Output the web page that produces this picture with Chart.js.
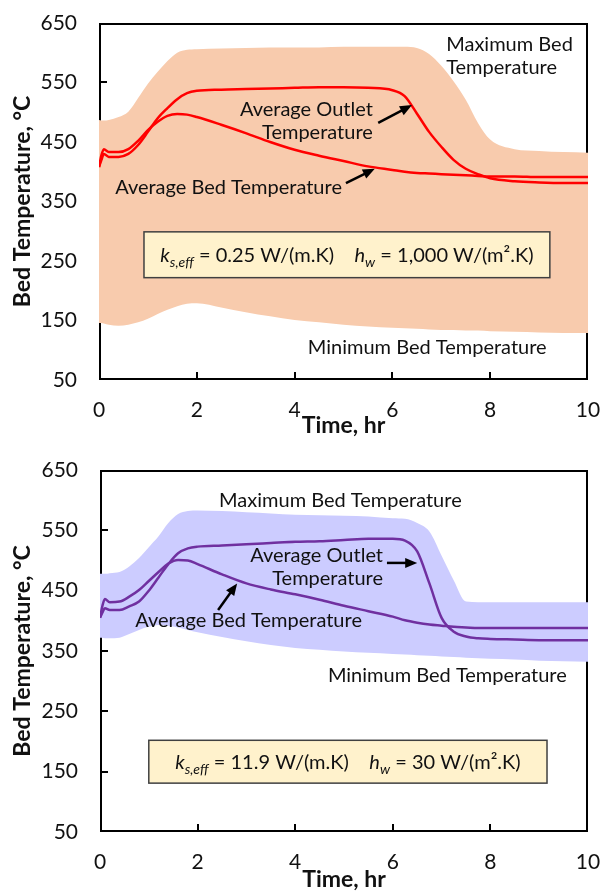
<!DOCTYPE html>
<html>
<head>
<meta charset="utf-8">
<script src="https://cdn.jsdelivr.net/npm/chart.js@4.4.1/dist/chart.umd.min.js"></script>
<style>
  html, body { margin: 0; padding: 0; background: #fff; }
  canvas { display: block; }
</style>
</head>
<body>
<canvas id="lowConductivity" width="603" height="450"></canvas>
<canvas id="highConductivity" width="603" height="443"></canvas>
<script>
// time axis shared by every curve, hours
const hours = [0, 0.05, 0.1, 0.2, 0.4, 0.6, 0.8, 1.0, 1.2, 1.4, 1.6, 1.8, 2.0, 2.5, 3, 3.5, 4, 4.5, 5, 5.5, 6, 6.25, 6.5, 6.75, 7, 7.25, 7.5, 7.75, 8, 8.5, 9, 9.5, 10];
const tempTicks = [50, 150, 250, 350, 450, 550, 650];
const hourTicks = [0, 2, 4, 6, 8, 10];

// ks,eff = 0.25 W/(m.K), hw = 1000 W/(m2.K)
const maxBedA = [487, 486, 486, 487, 492, 501, 524, 548, 568, 586, 600, 605, 606, 607, 608, 609, 609, 609, 610, 610, 610, 610, 608, 598, 578, 552, 521, 482, 454, 438, 435, 433, 432];
const minBedA = [146, 146, 145, 143, 141, 143, 147, 153, 161, 168, 174, 178, 179, 172, 164, 157, 151, 147, 143, 140, 138, 137, 136, 135, 134, 134, 133, 133, 132, 131, 130, 129, 129];
const avgBedA = [408, 428, 438, 433, 433, 438, 452, 470, 484, 494, 497, 496, 492, 479, 465, 450, 437, 427, 418, 409, 403, 400, 398, 397, 396, 395, 394, 393, 392, 392, 391, 391, 391];
const outletA = [408, 420, 430, 425, 425, 430, 445, 467, 490, 507, 522, 532, 536, 538, 539, 540, 541, 542, 542, 541, 537, 527, 498, 467, 442, 420, 405, 396, 389, 384, 382, 381, 381];

// ks,eff = 11.9 W/(m.K), hw = 30 W/(m2.K)
const maxBedB = [478, 478, 478, 479, 481, 490, 504, 522, 540, 562, 577, 582, 583, 582, 580, 578, 576, 575, 574, 573, 570, 569, 562, 548, 508, 467, 432, 431, 431, 431, 431, 431, 431];
const minBedB = [372, 372, 371, 371, 372, 378, 385, 390, 393, 392, 389, 385, 381, 373, 366, 360, 355, 352, 349, 347, 345, 344, 343, 342, 341, 340, 339, 338, 337, 336, 334, 333, 332];
const avgBedB = [405, 425, 436, 431, 432, 440, 451, 466, 481, 495, 501, 500, 494, 477, 462, 452, 444, 435, 425, 416, 407, 401, 397, 394, 392, 390, 389, 388, 388, 388, 388, 388, 388];
const outletB = [405, 414, 421, 418, 418, 424, 432, 450, 472, 494, 512, 520, 523, 525, 527, 529, 531, 532, 534, 536, 536, 533, 515, 462, 405, 382, 374, 371, 370, 369, 368, 368, 368];

const FONT = 'Lato, "Open Sans", sans-serif';

function pts(xs, ys) {
  return xs.map((x, i) => ({ x: x, y: ys[i] }));
}

function drawArrow(ctx, x1, y1, x2, y2) {
  const a = Math.atan2(y2 - y1, x2 - x1);
  const len = 12, half = 5;
  ctx.beginPath();
  ctx.moveTo(x1, y1);
  ctx.lineTo(x2 - Math.cos(a) * len * 0.8, y2 - Math.sin(a) * len * 0.8);
  ctx.stroke();
  ctx.beginPath();
  ctx.moveTo(x2, y2);
  ctx.lineTo(x2 - len * Math.cos(a) + half * Math.sin(a), y2 - len * Math.sin(a) - half * Math.cos(a));
  ctx.lineTo(x2 - len * Math.cos(a) - half * Math.sin(a), y2 - len * Math.sin(a) + half * Math.cos(a));
  ctx.closePath();
  ctx.fill();
}

// frame, inward tick marks, text labels, arrows and the parameter box
const notesPlugin = {
  id: 'notes',
  beforeDatasetsDraw(chart) {
    const { ctx, chartArea: a, scales: { x, y } } = chart;
    ctx.save();
    ctx.strokeStyle = '#000';
    ctx.lineWidth = 2;
    ctx.strokeRect(a.left + 1, a.top + 1, a.right - a.left - 2, a.bottom - a.top - 2);
    ctx.beginPath();
    y.ticks.forEach(t => {
      if (t.value <= y.min || t.value >= y.max) return;
      const py = Math.round(y.getPixelForValue(t.value));
      ctx.moveTo(a.left, py);
      ctx.lineTo(a.left + 8, py);
    });
    x.ticks.forEach(t => {
      if (t.value <= x.min || t.value >= x.max) return;
      const px = Math.round(x.getPixelForValue(t.value));
      ctx.moveTo(px, a.bottom);
      ctx.lineTo(px, a.bottom - 8);
    });
    ctx.stroke();
    ctx.restore();
  },
  afterDatasetsDraw(chart, args, opts) {
    const { ctx, scales: { x, y } } = chart;
    ctx.save();
    ctx.fillStyle = '#111';
    ctx.textBaseline = 'middle';
    ctx.font = opts.fontSize + 'px ' + FONT;
    opts.labels.forEach(l => {
      ctx.textAlign = l.align;
      const px = x.getPixelForValue(l.x);
      const py = y.getPixelForValue(l.y);
      l.text.forEach((line, i) => ctx.fillText(line, px, py + i * opts.lineGap));
    });

    ctx.strokeStyle = '#000';
    ctx.fillStyle = '#000';
    ctx.lineWidth = 2.5;
    opts.arrows.forEach(ar => {
      drawArrow(ctx, x.getPixelForValue(ar.from[0]), y.getPixelForValue(ar.from[1]),
        x.getPixelForValue(ar.to[0]), y.getPixelForValue(ar.to[1]));
    });

    const b = opts.box;
    const bx0 = x.getPixelForValue(b.x0), bx1 = x.getPixelForValue(b.x1);
    const by0 = y.getPixelForValue(b.y0), by1 = y.getPixelForValue(b.y1);
    ctx.fillStyle = '#FFF2CC';
    ctx.fillRect(bx0, by0, bx1 - bx0, by1 - by0);
    ctx.strokeStyle = '#404040';
    ctx.lineWidth = 1.5;
    ctx.strokeRect(bx0, by0, bx1 - bx0, by1 - by0);

    // rich text: italic symbols with italic subscripts
    const size = opts.boxFontSize;
    const fontOf = kind => (kind.includes('i') ? 'italic ' : '') + (kind.includes('s') ? Math.round(size * 0.68) : size) + 'px ' + FONT;
    let total = 0;
    b.parts.forEach(p => { ctx.font = fontOf(p[1]); total += ctx.measureText(p[0]).width; });
    let cx = (bx0 + bx1) / 2 - total / 2;
    const base = (by0 + by1) / 2 + size * 0.36;
    ctx.fillStyle = '#111';
    ctx.textAlign = 'left';
    ctx.textBaseline = 'alphabetic';
    b.parts.forEach(p => {
      ctx.font = fontOf(p[1]);
      ctx.fillText(p[0], cx, base + (p[1].includes('s') ? size * 0.25 : 0));
      cx += ctx.measureText(p[0]).width;
    });
    ctx.restore();
  }
};

function makeChart(id, series, look, notes) {
  return new Chart(document.getElementById(id), {
    type: 'line',
    data: {
      datasets: [
        { label: 'Maximum Bed Temperature', data: pts(hours, series.max), borderWidth: 0, pointRadius: 0,
          backgroundColor: look.band, fill: '+1', order: 2, cubicInterpolationMode: 'monotone' },
        { label: 'Minimum Bed Temperature', data: pts(hours, series.min), borderWidth: 0, pointRadius: 0,
          fill: false, order: 2, cubicInterpolationMode: 'monotone' },
        { label: 'Average Bed Temperature', data: pts(hours, series.bed), borderColor: look.line, borderWidth: 2.5,
          pointRadius: 0, fill: false, order: 0, cubicInterpolationMode: 'monotone' },
        { label: 'Average Outlet Temperature', data: pts(hours, series.outlet), borderColor: look.line, borderWidth: 2.5,
          pointRadius: 0, fill: false, order: 0, cubicInterpolationMode: 'monotone' }
      ]
    },
    options: {
      responsive: false,
      animation: false,
      events: [],
      layout: { padding: { left: 0, right: 15, top: look.top, bottom: 0 } },
      plugins: {
        legend: { display: false },
        tooltip: { enabled: false },
        notes: notes
      },
      scales: {
        x: {
          type: 'linear', min: 0, max: 10,
          afterBuildTicks: s => { s.ticks = hourTicks.map(v => ({ value: v })); },
          afterFit: s => { s.height = look.xHeight; s.paddingLeft = 0; s.paddingRight = 0; },
          grid: { display: false, drawTicks: false },
          border: { display: false },
          ticks: { padding: 18, color: '#111', font: { family: FONT, size: 21 } },
          title: { display: true, text: 'Time, hr', color: '#111', padding: { top: 0, bottom: look.xTitlePad },
            font: { family: FONT, size: 23, weight: 'bold' } }
        },
        y: {
          min: 50, max: 650,
          afterBuildTicks: s => { s.ticks = tempTicks.map(v => ({ value: v })); },
          afterFit: s => { s.width = look.yWidth; s.paddingTop = 0; s.paddingBottom = 0; },
          grid: { display: false, drawTicks: false },
          border: { display: false },
          ticks: { padding: 22, color: '#111', font: { family: FONT, size: 21 } },
          title: { display: true, text: 'Bed Temperature, °C', color: '#111', padding: { top: 9, bottom: 0 },
            font: { family: FONT, size: 23, weight: 'bold' } }
        }
      }
    },
    plugins: [notesPlugin]
  });
}

makeChart('lowConductivity',
  { max: maxBedA, min: minBedA, bed: avgBedA, outlet: outletA },
  { band: '#F8CBAD', line: '#FF0000', top: 23, xHeight: 70, xTitlePad: 11, yWidth: 99 },
  {
    fontSize: 20, boxFontSize: 20, lineGap: 23,
    labels: [
      { text: ['Maximum Bed', 'Temperature'], x: 7.1, y: 613, align: 'left' },
      { text: ['Average Outlet', 'Temperature'], x: 5.6, y: 504, align: 'right' },
      { text: ['Average Bed Temperature'], x: 0.33, y: 374, align: 'left' },
      { text: ['Minimum Bed Temperature'], x: 4.27, y: 105, align: 'left' }
    ],
    arrows: [
      { from: [5.05, 381], to: [5.64, 405] },
      { from: [5.71, 482], to: [6.4, 512] }
    ],
    box: {
      x0: 0.92, x1: 9.22, y0: 299, y1: 222,
      parts: [['k', 'i'], ['s,eff', 'is'], [' = 0.25 W/(m.K)', ''], ['    ', ''], ['h', 'i'], ['w', 'is'], [' = 1,000 W/(m\u00B2.K)', '']]
    }
  });

makeChart('highConductivity',
  { max: maxBedB, min: minBedB, bed: avgBedB, outlet: outletB },
  { band: '#CCCCFF', line: '#7030A0', top: 20, xHeight: 61, xTitlePad: 0, yWidth: 100 },
  {
    fontSize: 20, boxFontSize: 20, lineGap: 23,
    labels: [
      { text: ['Maximum Bed Temperature'], x: 2.44, y: 600, align: 'left' },
      { text: ['Average Outlet', 'Temperature'], x: 5.8, y: 509, align: 'right' },
      { text: ['Average Bed Temperature'], x: 0.72, y: 401, align: 'left' },
      { text: ['Minimum Bed Temperature'], x: 4.67, y: 309, align: 'left' }
    ],
    arrows: [
      { from: [5.88, 496], to: [6.5, 496] },
      { from: [2.42, 418], to: [2.81, 462] }
    ],
    box: {
      x0: 1.0, x1: 9.16, y0: 202, y1: 131,
      parts: [['k', 'i'], ['s,eff', 'is'], [' = 11.9 W/(m.K)', ''], ['    ', ''], ['h', 'i'], ['w', 'is'], [' = 30 W/(m\u00B2.K)', '']]
    }
  });
</script>
</body>
</html>
